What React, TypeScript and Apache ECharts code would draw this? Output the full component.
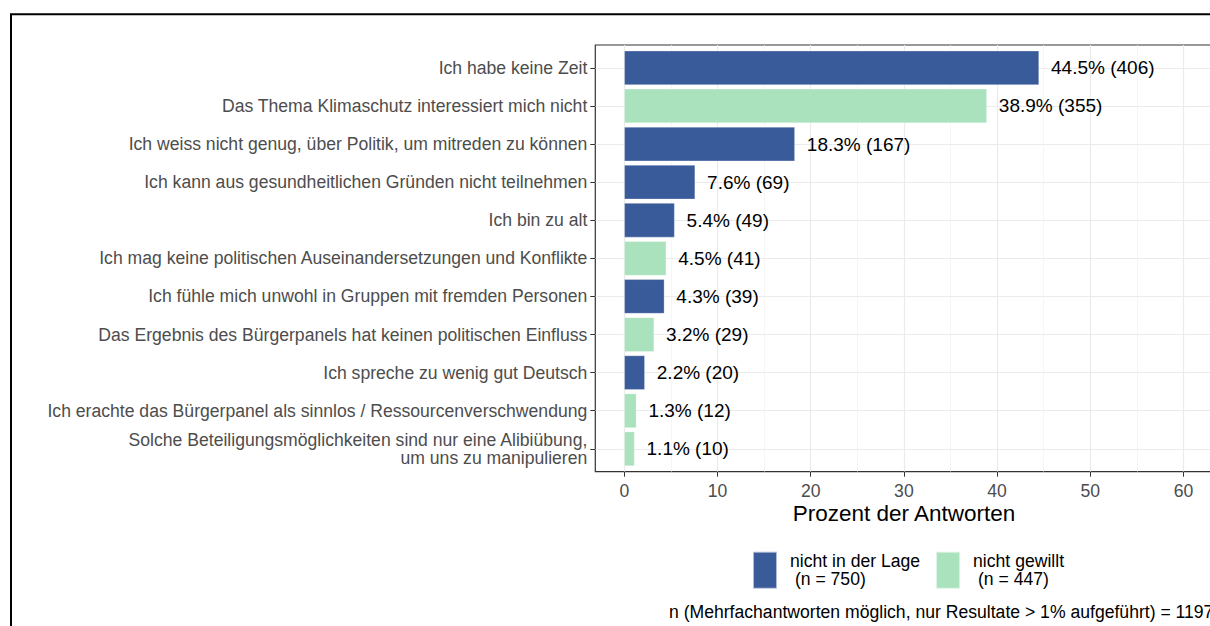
import React, { useEffect, useRef } from "react";
import * as echarts from "echarts";

const categories = [
  "Ich habe keine Zeit",
  "Das Thema Klimaschutz interessiert mich nicht",
  "Ich weiss nicht genug, über Politik, um mitreden zu können",
  "Ich kann aus gesundheitlichen Gründen nicht teilnehmen",
  "Ich bin zu alt",
  "Ich mag keine politischen Auseinandersetzungen und Konflikte",
  "Ich fühle mich unwohl in Gruppen mit fremden Personen",
  "Das Ergebnis des Bürgerpanels hat keinen politischen Einfluss",
  "Ich spreche zu wenig gut Deutsch",
  "Ich erachte das Bürgerpanel als sinnlos / Ressourcenverschwendung",
  "Solche Beteiligungsmöglichkeiten sind nur eine Alibiübung,\num uns zu manipulieren",
];
const percents = [44.5, 38.9, 18.3, 7.6, 5.4, 4.5, 4.3, 3.2, 2.2, 1.3, 1.1];
const counts = [406, 355, 167, 69, 49, 41, 39, 29, 20, 12, 10];
const groups = ["lage", "gewillt", "lage", "lage", "lage", "gewillt", "lage", "gewillt", "lage", "gewillt", "gewillt"];
const groupKeys = ["lage", "gewillt"];
const groupNames = ["nicht in der Lage\n\u00a0(n = 750)", "nicht gewillt\n\u00a0(n = 447)"];
const groupColors = ["#3A5B9A", "#A9E2BC"];
const xTicks = [0, 10, 20, 30, 40, 50, 60];
const xMinorTicks = [5, 15, 25, 35, 45, 55];
const caption = "n (Mehrfachantworten möglich, nur Resultate > 1% aufgeführt) = 1197";
const xTitle = "Prozent der Antworten";

const FONT = "'Liberation Sans', Arial, sans-serif";

export default function App() {
  const ref = useRef<HTMLDivElement>(null);
  useEffect(() => {
    if (!ref.current) return;
    const chart = echarts.init(ref.current, undefined, { renderer: "svg" });

    const panelLeft = 595.3;
    const panelTop = 45;
    const panelHeight = 426.7;
    const panelWidth = 617;
    const pxPerUnit = 9.32;
    const xMin = -3.11;
    const xMax = xMin + panelWidth / pxPerUnit;
    const yExpand = 0.6;
    const nCat = categories.length;
    const unitH = panelHeight / (nCat - 1 + 2 * yExpand);
    const barTop = panelTop + (yExpand - 0.5) * unitH;
    const barHeight = nCat * unitH;

    const series = groupKeys.map((g, gi) => ({
      name: groupNames[gi],
      type: "bar",
      xAxisIndex: 2,
      yAxisIndex: 1,
      barGap: "-100%",
      barCategoryGap: "10%",
      itemStyle: { color: groupColors[gi], borderColor: "rgba(255,255,255,0.6)", borderWidth: 0.5 },
      data: percents.map((p, i) => (groups[i] === g ? p : null)),
      label: {
        show: true,
        position: "right",
        distance: 12,
        fontSize: 19,
        fontFamily: FONT,
        color: "#000",
        formatter: (pr: any) =>
          pr.value == null ? "" : `${percents[pr.dataIndex].toFixed(1)}% (${counts[pr.dataIndex]})`,
      },
    }));

    chart.setOption({
      animation: false,
      textStyle: { fontFamily: FONT },
      grid: [
        {
          left: panelLeft,
          top: panelTop,
          width: panelWidth,
          height: panelHeight,
          show: true,
          borderColor: "#333333",
          borderWidth: 1.2,
          backgroundColor: "transparent",
          containLabel: false,
        },
        {
          left: panelLeft,
          top: barTop,
          width: panelWidth,
          height: barHeight,
          containLabel: false,
        },
      ],
      xAxis: [
        {
          type: "value",
          gridIndex: 0,
          min: xMin,
          max: xMax,
          position: "bottom",
          axisLine: { show: false, onZero: false },
          axisTick: { show: true, customValues: xTicks, length: 5, lineStyle: { color: "#333333", width: 1 } },
          axisLabel: {
            show: true,
            customValues: xTicks,
            fontSize: 17.6,
            color: "#4D4D4D",
            fontFamily: FONT,
            margin: 10,
          },
          splitLine: { show: true, lineStyle: { color: "#EBEBEB", width: 1.2 } },
        },
        {
          type: "value",
          gridIndex: 0,
          min: xMin,
          max: xMax,
          position: "bottom",
          axisLine: { show: false, onZero: false },
          axisTick: { show: false, customValues: xMinorTicks },
          axisLabel: { show: false, customValues: xMinorTicks },
          splitLine: { show: true, lineStyle: { color: "#F2F2F2", width: 0.7 } },
        },
        {
          type: "value",
          gridIndex: 1,
          min: xMin,
          max: xMax,
          show: false,
          axisLine: { onZero: false },
        },
      ],
      yAxis: [
        {
          type: "value",
          gridIndex: 0,
          min: -yExpand,
          max: nCat - 1 + yExpand,
          inverse: true,
          axisLine: { show: false, onZero: false },
          axisTick: { show: false, customValues: categories.map((_, i) => i) },
          axisLabel: { show: false, customValues: categories.map((_, i) => i) },
          splitLine: { show: true, lineStyle: { color: "#EBEBEB", width: 1.2 } },
        },
        {
          type: "category",
          gridIndex: 1,
          data: categories,
          inverse: true,
          axisLine: { show: false, onZero: false },
          axisTick: { show: true, alignWithLabel: true, length: 5, lineStyle: { color: "#333333", width: 1 } },
          axisLabel: {
            show: true,
            margin: 8,
            fontSize: 17.6,
            lineHeight: 18,
            color: "#4D4D4D",
            fontFamily: FONT,
            align: "right",
          },
          splitLine: { show: false },
        },
      ],
      legend: {
        left: 747,
        top: 545.7,
        orient: "horizontal",
        icon: "rect",
        itemWidth: 24,
        itemHeight: 37,
        itemGap: 15,
        data: groupNames,
        selectedMode: false,
        textStyle: { fontSize: 17.6, color: "#000", fontFamily: FONT, lineHeight: 17.6, padding: [0, 0, 0, 8] },
      },
      graphic: [
        {
          type: "rect",
          shape: { x: 11, y: 14.3, width: 1400, height: 800 },
          style: { fill: "none", stroke: "#000", lineWidth: 2 },
          silent: true,
        },
        {
          type: "text",
          x: 904,
          y: 513,
          style: {
            text: xTitle,
            fontSize: 22.5,
            fill: "#000",
            fontFamily: FONT,
            textAlign: "center",
            textVerticalAlign: "middle",
          },
          silent: true,
        },
        {
          type: "text",
          x: 669,
          y: 612,
          style: {
            text: caption,
            fontSize: 17.6,
            fill: "#000",
            fontFamily: FONT,
            textAlign: "left",
            textVerticalAlign: "middle",
          },
          silent: true,
        },
      ],
      series,
    });
    return () => chart.dispose();
  }, []);
  return (
    <div
      style={{
        position: "fixed",
        left: 0,
        top: 0,
        width: 1210,
        height: 626,
        overflow: "hidden",
        background: "#fff",
      }}
    >
      <div ref={ref} style={{ width: 1260, height: 626 }} />
    </div>
  );
}
